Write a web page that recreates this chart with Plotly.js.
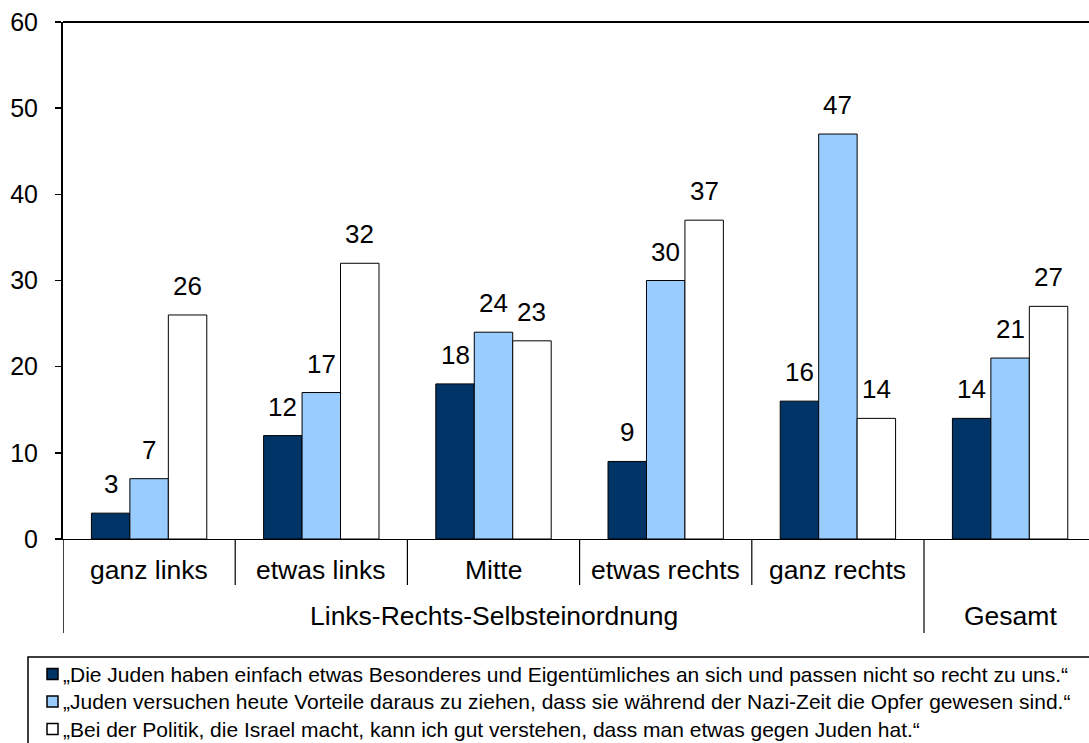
<!DOCTYPE html>
<html>
<head>
<meta charset="utf-8">
<script src="https://cdn.plot.ly/plotly-3.0.1.min.js"></script>
<style>html,body{margin:0;padding:0;background:#fff;}#chart{width:1089px;height:743px;}</style>
</head>
<body>
<div id="chart"></div>
<script>
const categories = ["ganz links", "etwas links", "Mitte", "etwas rechts", "ganz rechts", "Gesamt"];
const innerLabels = ["ganz links", "etwas links", "Mitte", "etwas rechts", "ganz rechts", ""];
const outerGroups = [
  {label: "Links-Rechts-Selbsteinordnung", from: 0, to: 4},
  {label: "Gesamt", from: 5, to: 5}
];
const seriesNames = [
  "„Die Juden haben einfach etwas Besonderes und Eigentümliches an sich und passen nicht so recht zu uns.“",
  "„Juden versuchen heute Vorteile daraus zu ziehen, dass sie während der Nazi-Zeit die Opfer gewesen sind.“",
  "„Bei der Politik, die Israel macht, kann ich gut verstehen, dass man etwas gegen Juden hat.“"
];
const seriesBesonderes = [3, 12, 18, 9, 16, 14];
const seriesVorteile = [7, 17, 24, 30, 47, 21];
const seriesIsrael = [26, 32, 23, 37, 14, 27];
const seriesColors = ["#003366", "#99CCFF", "#FFFFFF"];

const FONT = "Liberation Sans, Arial, sans-serif";
const allSeries = [seriesBesonderes, seriesVorteile, seriesIsrael];
const bargap = 0.33;
const nSeries = allSeries.length;
const barW = (1 - bargap) / nSeries;

const traces = allSeries.map((vals, k) => ({
  type: "bar",
  name: seriesNames[k],
  x: categories,
  y: vals,
  marker: {color: seriesColors[k], line: {color: "#000", width: 1}},
  hoverinfo: "skip",
  showlegend: false
}));

const annotations = [];
allSeries.forEach((vals, k) => {
  vals.forEach((v, i) => {
    annotations.push({
      xref: "x", yref: "y",
      x: i + (k - (nSeries - 1) / 2) * barW,
      y: v,
      yanchor: "bottom",
      yshift: 12,
      text: String(v),
      showarrow: false,
      font: {family: FONT, size: 26, color: "#000"}
    });
  });
});

// geometry helpers (pixels relative to plot area)
const M = {l: 63, r: 0, t: 22, b: 204};
const plotW = 1089 - M.l - M.r;
const plotH = 743 - M.t - M.b;
const py = p => -p / plotH;          // pixels below plot bottom -> paper y
const pxX = p => (p - M.l) / plotW;  // absolute pixel x -> paper x

innerLabels.forEach((lab, i) => {
  if (!lab) return;
  annotations.push({
    xref: "x", yref: "paper", x: i, y: py(31), yanchor: "middle",
    text: lab, showarrow: false,
    font: {family: FONT, size: 26.5, color: "#000"}
  });
});
outerGroups.forEach(g => {
  annotations.push({
    xref: "x", yref: "paper", x: (g.from + g.to) / 2, y: py(77), yanchor: "middle",
    text: g.label, showarrow: false,
    font: {family: FONT, size: 26.5, color: "#000"}
  });
});

const shapes = [];
// top frame line
shapes.push({type: "line", xref: "paper", yref: "paper", x0: 0, x1: 1.01, y0: 1, y1: 1,
  line: {color: "#000", width: 2}});
// category separators
for (let i = 1; i < categories.length; i++) {
  const isOuter = outerGroups.some(g => g.from === i);
  shapes.push({type: "line", xref: "x", yref: "paper", x0: i - 0.5, x1: i - 0.5,
    y0: 0, y1: isOuter ? py(94) : py(46), line: {color: "#000", width: 1.2}});
}
// left axis extension
shapes.push({type: "line", xref: "x", yref: "paper", x0: -0.5, x1: -0.5, y0: 0, y1: py(94),
  line: {color: "#000", width: 1.5}});

// legend (box, markers, texts)
const legTop = 657 - (743 - M.b);
shapes.push({type: "rect", xref: "paper", yref: "paper",
  x0: pxX(28), x1: pxX(1100), y0: py(legTop), y1: py(legTop + 120),
  line: {color: "#000", width: 1.5}, fillcolor: "rgba(0,0,0,0)"});
const rowStep = 27.5;
seriesNames.forEach((name, k) => {
  const cy = legTop + 17 + k * rowStep;
  shapes.push({type: "rect", xref: "paper", yref: "paper",
    x0: pxX(47), x1: pxX(58), y0: py(cy - 5.5), y1: py(cy + 5.5),
    line: {color: "#000", width: 1.5}, fillcolor: seriesColors[k]});
  annotations.push({
    xref: "paper", yref: "paper", x: pxX(61), y: py(cy), xanchor: "left", yanchor: "middle",
    text: name, showarrow: false,
    font: {family: FONT, size: 21, color: "#000"}
  });
});

const catWidthPx = (924 - 63) / 5;
const xMax = -0.5 + plotW / catWidthPx;

const layout = {
  width: 1089, height: 743,
  margin: {l: M.l, r: M.r, t: M.t, b: M.b, autoexpand: false},
  paper_bgcolor: "#fff", plot_bgcolor: "#fff",
  barmode: "group", bargap: bargap, bargroupgap: 0,
  font: {family: FONT, color: "#000"},
  showlegend: false,
  xaxis: {
    type: "category", range: [-0.5, xMax],
    showticklabels: false, ticks: "", showgrid: false, zeroline: false,
    showline: true, linecolor: "#000", linewidth: 1, fixedrange: true
  },
  yaxis: {
    range: [0, 60], dtick: 10, tick0: 0,
    ticks: "outside", ticklen: 6, tickwidth: 1.5, tickcolor: "#000",
    showline: true, linecolor: "#000", linewidth: 2,
    showgrid: false, zeroline: false,
    tickfont: {family: FONT, size: 25, color: "#000"},
    ticklabelstandoff: 12, fixedrange: true
  },
  annotations: annotations,
  shapes: shapes
};

Plotly.newPlot("chart", traces, layout, {displayModeBar: false, staticPlot: true});
</script>
</body>
</html>
